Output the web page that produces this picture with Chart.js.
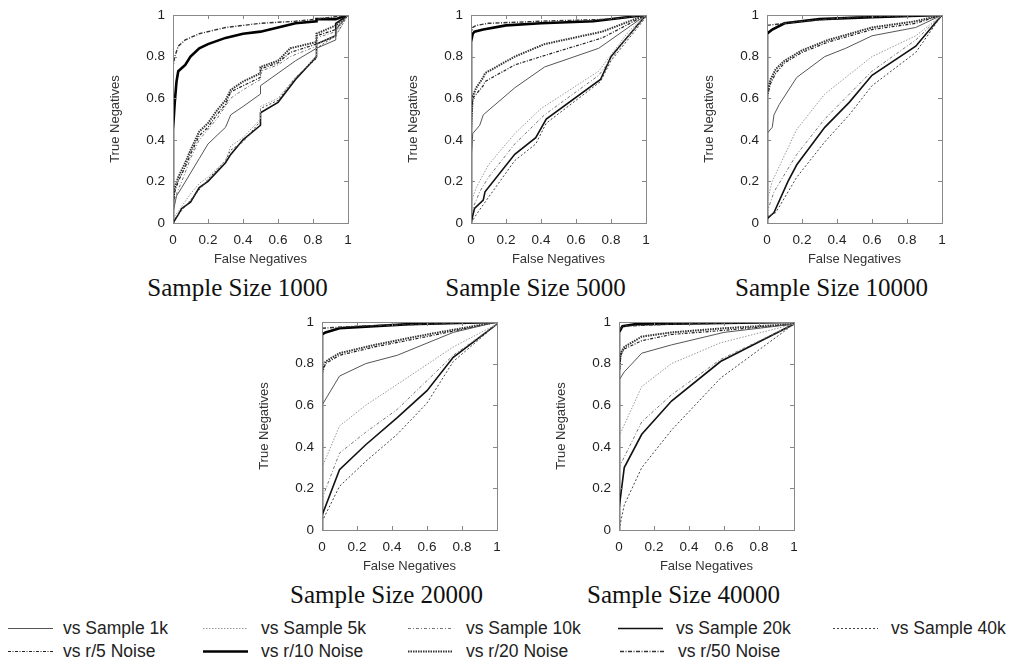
<!DOCTYPE html>
<html>
<head>
<meta charset="utf-8">
<script src="https://cdn.jsdelivr.net/npm/chart.js@4.4.1/dist/chart.umd.min.js"></script>
<style>
  body { margin: 0; background: #fff; }
  #page { position: relative; width: 1014px; height: 661px; overflow: hidden; background: #fff; }
  .box { position: absolute; }
  .cap { position: absolute; font-family: "Liberation Serif", serif; font-size: 25px; color: #111; white-space: nowrap; transform: translate(-50%, -50%); }
  .leg { position: absolute; font-family: "Liberation Sans", Arial, sans-serif; font-size: 17.5px; color: #222; white-space: nowrap; display: flex; align-items: center; transform: translateY(-50%); }
  .leg svg { display: block; }
</style>
</head>
<body>
<div id="page"></div>
<script>
// series names (legend order)
const seriesNames = ["vs Sample 1k", "vs Sample 5k", "vs Sample 10k", "vs Sample 20k", "vs Sample 40k",
                     "vs r/5 Noise", "vs r/10 Noise", "vs r/20 Noise", "vs r/50 Noise"];
const axisTicks = [0, 0.2, 0.4, 0.6, 0.8, 1];
const panelTitles = ["Sample Size 1000", "Sample Size 5000", "Sample Size 10000", "Sample Size 20000", "Sample Size 40000"];

// ---- Sample Size 1000 : [false negatives, true negatives]
const n1000_s1k  = [[0,0.05],[0.02,0.13],[0.05,0.17],[0.1,0.24],[0.15,0.31],[0.2,0.38],[0.3,0.46],[0.33,0.52],[0.4,0.56],[0.5,0.62],[0.5,0.66],[0.6,0.72],[0.7,0.78],[0.82,0.84],[0.93,0.88],[0.93,0.93],[1,1]];
const n1000_s5k  = [[0,0.02],[0.05,0.08],[0.1,0.14],[0.15,0.19],[0.2,0.22],[0.3,0.3],[0.33,0.37],[0.4,0.41],[0.5,0.5],[0.5,0.56],[0.6,0.6],[0.7,0.7],[0.82,0.8],[0.82,0.86],[0.93,0.9],[1,1]];
const n1000_s10k = [[0,0.06],[0.02,0.14],[0.05,0.2],[0.1,0.31],[0.15,0.4],[0.25,0.5],[0.33,0.6],[0.4,0.64],[0.5,0.69],[0.5,0.73],[0.6,0.76],[0.67,0.8],[0.82,0.85],[0.82,0.89],[0.93,0.92],[1,1]];
const n1000_s20k = [[0,0],[0.03,0.04],[0.05,0.07],[0.1,0.1],[0.15,0.17],[0.2,0.2],[0.3,0.29],[0.33,0.33],[0.4,0.4],[0.5,0.47],[0.5,0.53],[0.6,0.58],[0.7,0.69],[0.82,0.8],[0.82,0.86],[0.93,0.9],[0.93,0.96],[1,1]];
const n1000_s40k = [[0,0.01],[0.05,0.06],[0.1,0.11],[0.2,0.21],[0.3,0.3],[0.33,0.35],[0.4,0.39],[0.5,0.49],[0.5,0.55],[0.6,0.59],[0.7,0.7],[0.82,0.79],[0.82,0.84],[0.93,0.9],[1,1]];
const n1000_r5   = [[0,0.08],[0.01,0.15],[0.03,0.2],[0.07,0.27],[0.1,0.33],[0.15,0.42],[0.2,0.46],[0.25,0.52],[0.3,0.57],[0.33,0.63],[0.4,0.66],[0.5,0.7],[0.5,0.74],[0.6,0.77],[0.67,0.82],[0.82,0.86],[0.82,0.9],[0.93,0.93],[1,1]];
const n1000_r10  = [[0,0],[0,0.25],[0,0.45],[0.01,0.58],[0.02,0.68],[0.03,0.73],[0.07,0.76],[0.1,0.8],[0.15,0.84],[0.2,0.86],[0.3,0.89],[0.4,0.91],[0.5,0.92],[0.6,0.94],[0.7,0.96],[0.82,0.97],[0.82,0.98],[0.93,0.98],[1,1]];
const n1000_r20  = [[0,0.1],[0.01,0.17],[0.03,0.22],[0.07,0.29],[0.1,0.35],[0.15,0.44],[0.2,0.48],[0.25,0.54],[0.3,0.59],[0.33,0.64],[0.4,0.68],[0.5,0.72],[0.5,0.75],[0.6,0.78],[0.67,0.84],[0.82,0.87],[0.82,0.91],[0.93,0.95],[1,1]];
const n1000_r50  = [[0,0.7],[0,0.75],[0.01,0.8],[0.03,0.85],[0.07,0.88],[0.15,0.91],[0.3,0.94],[0.5,0.96],[0.7,0.97],[0.82,0.98],[1,1]];

// ---- Sample Size 5000
const n5000_s1k  = [[0,0.3],[0.01,0.43],[0.05,0.47],[0.07,0.52],[0.25,0.65],[0.42,0.75],[0.73,0.84],[1,1]];
const n5000_s5k  = [[0,0.1],[0.03,0.17],[0.1,0.28],[0.25,0.43],[0.4,0.55],[0.73,0.73],[0.9,0.92],[1,1]];
const n5000_s10k = [[0,0.05],[0.05,0.15],[0.1,0.22],[0.25,0.38],[0.42,0.52],[0.73,0.71],[0.9,0.9],[1,1]];
const n5000_s20k = [[0,0],[0.02,0.07],[0.07,0.11],[0.08,0.15],[0.25,0.33],[0.37,0.41],[0.43,0.5],[0.74,0.69],[0.8,0.8],[1,1]];
const n5000_s40k = [[0,0],[0.03,0.04],[0.08,0.1],[0.25,0.3],[0.37,0.38],[0.43,0.48],[0.74,0.68],[0.8,0.78],[1,0.99]];
const n5000_r5   = [[0,0.5],[0.01,0.6],[0.03,0.62],[0.07,0.66],[0.08,0.68],[0.25,0.76],[0.4,0.8],[0.75,0.89],[1,1]];
const n5000_r10  = [[0,0],[0,0.87],[0.01,0.91],[0.02,0.92],[0.07,0.93],[0.2,0.95],[0.4,0.96],[0.7,0.97],[0.9,0.99],[1,1]];
const n5000_r20  = [[0,0.45],[0.01,0.61],[0.03,0.65],[0.07,0.7],[0.08,0.72],[0.25,0.8],[0.42,0.86],[0.75,0.92],[1,1]];
const n5000_r50  = [[0,0.9],[0.01,0.94],[0.03,0.95],[0.1,0.96],[0.4,0.97],[0.8,0.98],[1,1]];

// ---- Sample Size 10000
const n10000_s1k  = [[0,0.43],[0.03,0.46],[0.04,0.52],[0.07,0.57],[0.17,0.7],[0.33,0.8],[0.45,0.84],[0.6,0.9],[0.85,0.94],[1,1]];
const n10000_s5k  = [[0,0.1],[0.03,0.2],[0.17,0.45],[0.33,0.62],[0.6,0.8],[0.85,0.9],[1,1]];
const n10000_s10k = [[0,0.05],[0.04,0.15],[0.17,0.33],[0.33,0.5],[0.6,0.73],[0.85,0.88],[1,1]];
const n10000_s20k = [[0,0.02],[0.04,0.05],[0.12,0.2],[0.17,0.28],[0.33,0.46],[0.47,0.58],[0.6,0.71],[0.85,0.85],[1,1]];
const n10000_s40k = [[0,0.03],[0.05,0.05],[0.17,0.22],[0.33,0.39],[0.47,0.52],[0.6,0.66],[0.85,0.82],[1,1]];
const n10000_r5   = [[0,0.6],[0.02,0.67],[0.05,0.72],[0.1,0.77],[0.2,0.82],[0.35,0.87],[0.6,0.93],[0.85,0.96],[1,1]];
const n10000_r10  = [[0,0],[0,0.91],[0.03,0.93],[0.1,0.96],[0.3,0.98],[0.6,0.99],[1,1]];
const n10000_r20  = [[0,0.62],[0.02,0.69],[0.05,0.74],[0.1,0.78],[0.2,0.83],[0.35,0.88],[0.6,0.94],[0.85,0.97],[1,1]];
const n10000_r50  = [[0,0.95],[0.1,0.96],[0.2,0.97],[0.5,0.99],[1,1]];

// ---- Sample Size 20000
const n20000_s1k  = [[0,0.6],[0.1,0.74],[0.25,0.8],[0.43,0.84],[0.75,0.95],[1,1]];
const n20000_s5k  = [[0,0.3],[0.1,0.5],[0.25,0.6],[0.43,0.7],[0.75,0.88],[1,0.99]];
const n20000_s10k = [[0,0.15],[0.1,0.37],[0.25,0.47],[0.43,0.58],[0.75,0.84],[1,0.99]];
const n20000_s20k = [[0,0.07],[0.1,0.29],[0.25,0.41],[0.43,0.54],[0.6,0.67],[0.75,0.83],[1,0.99]];
const n20000_s40k = [[0,0.04],[0.1,0.21],[0.25,0.33],[0.43,0.46],[0.6,0.61],[0.75,0.81],[1,0.99]];
const n20000_r5   = [[0,0.75],[0.02,0.8],[0.1,0.84],[0.3,0.88],[0.6,0.93],[1,1]];
const n20000_r10  = [[0,0],[0,0.94],[0.02,0.95],[0.1,0.97],[0.5,0.99],[1,1]];
const n20000_r20  = [[0,0.77],[0.02,0.81],[0.1,0.85],[0.3,0.89],[0.6,0.94],[1,1]];
const n20000_r50  = [[0,0.97],[0.2,0.98],[0.6,0.99],[1,1]];

// ---- Sample Size 40000
const n40000_s1k  = [[0,0.72],[0.03,0.76],[0.13,0.85],[0.3,0.89],[0.6,0.95],[1,0.99]];
const n40000_s5k  = [[0,0.45],[0.13,0.69],[0.3,0.8],[0.58,0.9],[1,0.99]];
const n40000_s10k = [[0,0.3],[0.13,0.52],[0.3,0.65],[0.58,0.82],[1,0.99]];
const n40000_s20k = [[0,0.1],[0.03,0.3],[0.13,0.46],[0.3,0.62],[0.58,0.81],[1,0.99]];
const n40000_s40k = [[0,0],[0.03,0.12],[0.13,0.3],[0.3,0.48],[0.58,0.73],[1,0.99]];
const n40000_r5   = [[0,0.74],[0.01,0.84],[0.03,0.87],[0.13,0.91],[0.3,0.94],[0.6,0.96],[1,0.99]];
const n40000_r10  = [[0,0],[0,0.95],[0.02,0.98],[0.1,0.99],[1,1]];
const n40000_r20  = [[0,0.76],[0.01,0.85],[0.03,0.88],[0.13,0.93],[0.3,0.95],[0.6,0.97],[1,0.99]];
const n40000_r50  = [[0,0.96],[0.02,0.98],[0.3,0.99],[1,1]];

const panelData = [
  [n1000_s1k, n1000_s5k, n1000_s10k, n1000_s20k, n1000_s40k, n1000_r5, n1000_r10, n1000_r20, n1000_r50],
  [n5000_s1k, n5000_s5k, n5000_s10k, n5000_s20k, n5000_s40k, n5000_r5, n5000_r10, n5000_r20, n5000_r50],
  [n10000_s1k, n10000_s5k, n10000_s10k, n10000_s20k, n10000_s40k, n10000_r5, n10000_r10, n10000_r20, n10000_r50],
  [n20000_s1k, n20000_s5k, n20000_s10k, n20000_s20k, n20000_s40k, n20000_r5, n20000_r10, n20000_r20, n20000_r50],
  [n40000_s1k, n40000_s5k, n40000_s10k, n40000_s20k, n40000_s40k, n40000_r5, n40000_r10, n40000_r20, n40000_r50]
];

// line styles, same order as seriesNames
const styles = [
  { color: '#555', width: 1,   dash: [] },
  { color: '#999', width: 1,   dash: [1.5, 1.5] },
  { color: '#777', width: 1,   dash: [3, 2, 1, 2] },
  { color: '#111', width: 1.6, dash: [] },
  { color: '#444', width: 1,   dash: [2, 2] },
  { color: '#222', width: 1.2, dash: [3, 1.5, 1, 1.5] },
  { color: '#000', width: 2.6, dash: [] },
  { color: '#333', width: 2,   dash: [1.5, 1] },
  { color: '#333', width: 1.4, dash: [4, 1.5, 1, 1.5] }
];
// drawing order: thin first, heavy last
const drawOrder = [1, 2, 4, 0, 3, 5, 7, 8, 6];

// plot-area placement (left, top) of each panel
const plots = [[173, 15], [471, 15], [767, 15], [322, 322], [619, 322]];
const PW = 175, PH = 208;
const YW = 70, XH = 48, PADT = 10, PADR = 12;

const page = document.getElementById('page');

// inward tick marks and frame, gnuplot style
const framePlugin = {
  id: 'frame',
  afterDatasetsDraw(chart) {
    const { ctx, chartArea: a, scales: { x, y } } = chart;
    ctx.save();
    ctx.strokeStyle = '#888';
    ctx.lineWidth = 1;
    ctx.setLineDash([]);
    ctx.beginPath();
    axisTicks.slice(1, -1).forEach(v => {
      const px = Math.round(x.getPixelForValue(v)) + 0.5;
      ctx.moveTo(px, a.bottom); ctx.lineTo(px, a.bottom - 4);
      ctx.moveTo(px, a.top); ctx.lineTo(px, a.top + 4);
      const py = Math.round(y.getPixelForValue(v)) + 0.5;
      ctx.moveTo(a.left, py); ctx.lineTo(a.left + 4, py);
      ctx.moveTo(a.right, py); ctx.lineTo(a.right - 4, py);
    });
    ctx.stroke();
    ctx.strokeRect(Math.round(a.left) + 0.5, Math.round(a.top) + 0.5, Math.round(a.right - a.left), Math.round(a.bottom - a.top));
    ctx.restore();
  }
};

const tickFont = { family: '"Liberation Sans", Arial, sans-serif', size: 13.5 };
const titleFont = { family: '"Liberation Sans", Arial, sans-serif', size: 13 };

plots.forEach(([pl, pt], i) => {
  const div = document.createElement('div');
  div.className = 'box';
  const w = YW + PW + PADR, h = PADT + PH + XH;
  div.style.left = (pl - YW) + 'px';
  div.style.top = (pt - PADT) + 'px';
  div.style.width = w + 'px';
  div.style.height = h + 'px';
  const cv = document.createElement('canvas');
  cv.width = w; cv.height = h;
  div.appendChild(cv);
  page.appendChild(div);

  const datasets = drawOrder.map(k => ({
    label: seriesNames[k],
    data: panelData[i][k].map(([x, y]) => ({ x, y })),
    borderColor: styles[k].color,
    borderWidth: styles[k].width,
    borderDash: styles[k].dash,
    pointRadius: 0,
    showLine: true,
    tension: 0,
    fill: false
  }));

  new Chart(cv, {
    type: 'scatter',
    data: { datasets },
    options: {
      responsive: false,
      animation: false,
      layout: { padding: { top: PADT, right: PADR, left: 0, bottom: 0 } },
      plugins: { legend: { display: false }, tooltip: { enabled: false } },
      scales: {
        x: {
          type: 'linear', min: 0, max: 1,
          afterBuildTicks: s => { s.ticks = axisTicks.map(v => ({ value: v })); },
          afterFit: s => { s.height = XH; s.paddingLeft = 0; s.paddingRight = 0; },
          grid: { display: false, drawTicks: false },
          border: { display: false },
          ticks: { font: tickFont, color: '#222', padding: 9, maxRotation: 0, autoSkip: false, callback: v => String(v) },
          title: { display: true, text: 'False Negatives', font: titleFont, color: '#333', padding: { top: 0, bottom: 4 } }
        },
        y: {
          type: 'linear', min: 0, max: 1,
          afterBuildTicks: s => { s.ticks = axisTicks.map(v => ({ value: v })); },
          afterFit: s => { s.width = YW; s.paddingTop = 0; s.paddingBottom = 0; },
          grid: { display: false, drawTicks: false },
          border: { display: false },
          ticks: { font: tickFont, color: '#222', padding: 8, autoSkip: false, callback: v => String(v) },
          title: { display: true, text: 'True Negatives', font: titleFont, color: '#333', padding: { top: 5, bottom: 0 } }
        }
      }
    },
    plugins: [framePlugin]
  });

  const cap = document.createElement('div');
  cap.className = 'cap';
  cap.textContent = panelTitles[i];
  cap.style.left = (pl + PW / 2 - 23) + 'px';
  cap.style.top = (pt + 273) + 'px';
  page.appendChild(cap);
});

// legend: two rows of samples
const legendPos = [
  [8, 628], [203, 628], [408, 628], [618, 628], [833, 628],
  [8, 651], [203, 651], [408, 651], [620, 651]
];
seriesNames.forEach((name, k) => {
  const st = styles[k];
  const el = document.createElement('div');
  el.className = 'leg';
  el.style.left = legendPos[k][0] + 'px';
  el.style.top = legendPos[k][1] + 'px';
  const dash = st.dash.length ? `stroke-dasharray="${st.dash.join(' ')}"` : '';
  el.innerHTML = `<svg width="46" height="8"><line x1="0" y1="4" x2="45" y2="4" stroke="${st.color}" stroke-width="${st.width}" ${dash}/></svg>` +
                 `<span style="margin-left:${k === 0 || k === 5 ? 9 : 12}px">${name}</span>`;
  page.appendChild(el);
});
</script>
</body>
</html>
